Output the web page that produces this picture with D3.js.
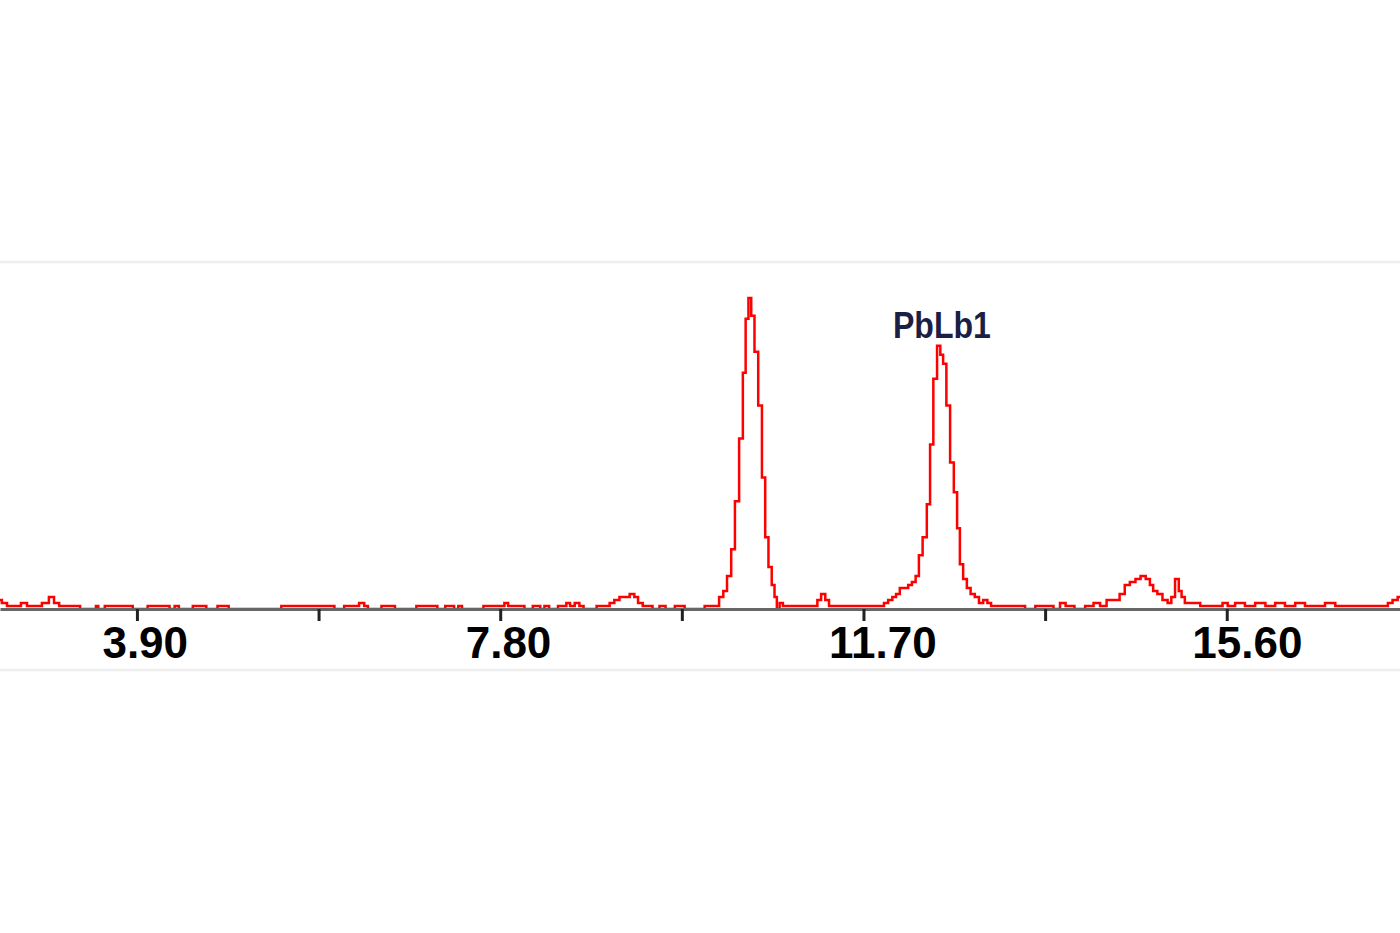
<!DOCTYPE html>
<html><head><meta charset="utf-8">
<script src="https://cdn.jsdelivr.net/npm/d3@7"></script>
<style>html,body{margin:0;padding:0;background:#fff;overflow:hidden}</style>
</head><body>
<svg id="chart" width="1400" height="933"></svg>
<script>
const energies = [
  2.43,2.47,2.54,2.62,2.69,2.75,2.84,2.92,2.99,3.03,3.10,3.18,3.27,3.31,3.45,3.47,3.50,3.61,3.68,3.74,3.83,3.88,
  4.15,4.22,4.28,4.33,4.37,4.63,4.66,4.87,4.90,6.00,6.04,6.21,6.25,6.32,6.36,6.40,6.65,6.69,7.11,7.14,7.28,7.33,7.37,7.41,
  7.83,7.86,7.91,7.97,8.03,8.09,8.21,8.25,8.30,8.35,8.49,8.53,8.57,8.63,8.67,8.72,8.95,9.00,9.05,9.11,9.16,9.22,9.26,9.30,
  9.36,9.41,9.46,9.56,9.59,9.76,9.80,9.95,10.04,10.09,10.12,10.18,10.21,10.26,10.30,10.34,10.39,10.42,10.45,10.48,10.51,
  10.55,10.59,10.63,10.66,10.70,10.73,10.76,10.78,10.82,10.85,10.91,11.02,11.13,11.19,11.22,11.27,11.31,11.35,11.45,11.56,
  11.66,11.75,11.84,11.90,11.94,11.99,12.03,12.07,12.11,12.16,12.20,12.24,12.28,12.31,12.36,12.40,12.43,12.47,12.51,12.54,
  12.57,12.61,12.65,12.69,12.72,12.75,12.79,12.83,12.87,12.92,12.96,13.01,13.05,13.09,13.17,13.27,13.38,13.49,13.60,13.70,
  13.78,13.84,13.90,14.03,14.13,14.21,14.27,14.35,14.42,14.48,14.53,14.59,14.65,14.70,14.76,14.79,14.83,14.88,14.94,14.99,
  15.02,15.07,15.10,15.13,15.17,15.23,15.28,15.35,15.42,15.53,15.58,15.64,15.74,15.85,15.96,16.07,16.17,16.28,16.39,16.49,
  16.60,16.71,16.82,16.92,17.03,17.14,17.25,17.31,17.35,17.41,17.46
];
const counts = [
  3,2,1,1,2,1,1,2,4,2,1,1,1,0,0,1,0,1,1,1,1,0,
  1,1,0,1,0,1,0,1,0,1,0,1,1,2,1,0,1,0,1,0,1,0,1,0,
  1,2,1,1,1,0,1,0,1,0,1,2,1,2,1,0,1,2,3,4,4,5,4,2,
  1,1,0,1,0,1,0,0,1,1,1,4,6,11,20,36,57,79,97,104,98,
  86,68,44,24,14,8,4,0,2,1,1,1,1,1,3,5,3,1,1,1,
  1,1,1,1,2,3,4,5,7,7,8,9,11,18,24,35,55,77,88,85,
  82,68,49,39,27,15,10,7,5,4,2,3,2,1,1,1,1,0,1,1,
  0,2,1,0,1,2,1,3,3,5,8,9,10,11,10,8,6,5,3,2,
  4,10,6,4,2,2,2,1,1,1,2,1,2,1,2,1,2,1,2,1,
  1,2,1,1,1,1,1,1,2,3,4
];
const tickValues = [3.90, 5.85, 7.80, 9.75, 11.70, 13.65, 15.60];
const tickLabels = ["3.90", "", "7.80", "", "11.70", "", "15.60"];
const peakLabels = ["PbLb1"];
const peakLabelEnergies = [12.51];
const peakLabelCounts = [88];

const W = 1400, H = 933;
const svg = d3.select("#chart");
const x = d3.scaleLinear().domain([2.43, 17.46]).range([0, W]);
const y = d3.scaleLinear().domain([0, 116]).range([609, 262]);

// faint frame lines
svg.append("line").attr("x1", 0).attr("x2", W).attr("y1", y(116)).attr("y2", y(116))
  .attr("stroke", "#efefef").attr("stroke-width", 2.5);
svg.append("line").attr("x1", 0).attr("x2", W).attr("y1", 670).attr("y2", 670)
  .attr("stroke", "#efefef").attr("stroke-width", 2.5);

svg.append("clipPath").attr("id", "clip").append("rect")
  .attr("x", 0).attr("y", 0).attr("width", W).attr("height", H);

const data = energies.map((e, i) => [e, counts[i]]);
const line = d3.line().x(d => x(d[0])).y(d => y(d[1])).curve(d3.curveStep);

svg.append("path").datum(data)
  .attr("clip-path", "url(#clip)")
  .attr("d", line)
  .attr("fill", "none")
  .attr("stroke", "#ff0000")
  .attr("stroke-width", 2.5)
  .attr("stroke-linejoin", "miter");

// axis
const axis = d3.axisBottom(x).tickValues(tickValues)
  .tickFormat((d, i) => tickLabels[i]).tickSize(12).tickSizeOuter(0);
const gx = svg.append("g").attr("transform", `translate(0,${y(0)})`).call(axis);
gx.select(".domain").attr("stroke", "#666").attr("stroke-width", 3);
gx.selectAll(".tick line").attr("stroke", "#222").attr("stroke-width", 3);
gx.selectAll(".tick text")
  .attr("font-family", "'Liberation Sans', Arial, sans-serif")
  .attr("font-weight", "bold")
  .attr("font-size", 44)
  .attr("fill", "#000")
  .attr("y", 49).attr("dy", 0)
  .attr("text-anchor", "start")
  .attr("x", -35);

// peak label
svg.selectAll("text.peak").data(peakLabels).enter().append("text")
  .attr("class", "peak")
  .attr("x", (d, i) => x(peakLabelEnergies[i]) + 3)
  .attr("y", (d, i) => y(peakLabelCounts[i]) - 8)
  .attr("text-anchor", "middle")
  .attr("font-family", "'Liberation Sans', Arial, sans-serif")
  .attr("font-weight", "bold")
  .attr("font-size", 36)
  .attr("textLength", 98)
  .attr("lengthAdjust", "spacingAndGlyphs")
  .attr("fill", "#1c1f45")
  .text(d => d);
</script>
</body></html>
